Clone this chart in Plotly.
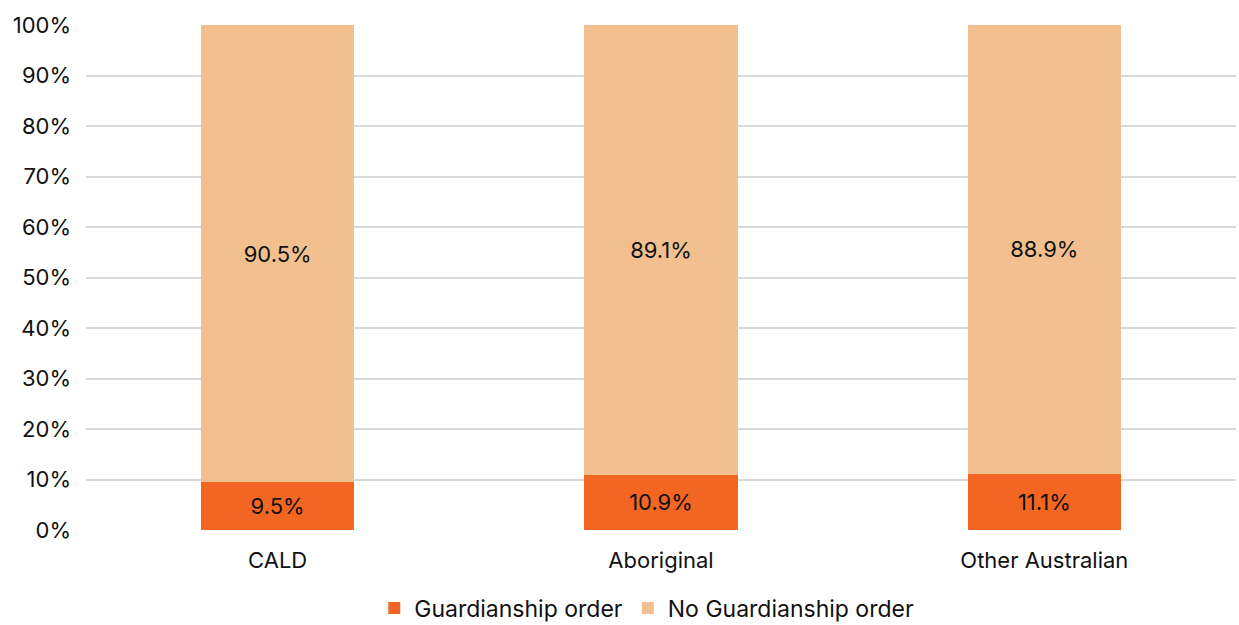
import plotly.graph_objects as go

categories = ["CALD", "Aboriginal", "Other Australian"]
guardianship = [9.5, 10.9, 11.1]
no_guardianship = [90.5, 89.1, 88.9]
y_ticks = [0, 10, 20, 30, 40, 50, 60, 70, 80, 90, 100]
y_tick_labels = [f"{v}%" for v in y_ticks]

FONT = "Inter, Roboto, sans-serif"
FS = 22

fig = go.Figure()
fig.add_trace(go.Bar(
    x=categories, y=guardianship, name="Guardianship order",
    marker=dict(color="#F26522", line=dict(width=0)),
    text=[f"{v:.1f}%" for v in guardianship], textposition="inside",
    insidetextanchor="middle", textfont=dict(color="#111111", size=FS, family=FONT),
    width=0.4,
))
fig.add_trace(go.Bar(
    x=categories, y=no_guardianship, name="No Guardianship order",
    marker=dict(color="#F2C08E", line=dict(width=0)),
    text=[f"{v:.1f}%" for v in no_guardianship], textposition="inside",
    insidetextanchor="middle", textfont=dict(color="#111111", size=FS, family=FONT),
    width=0.4,
))

fig.update_layout(
    barmode="stack",
    width=1239, height=625,
    margin=dict(l=86, r=3, t=25, b=95, autoexpand=False),
    paper_bgcolor="white", plot_bgcolor="white",
    font=dict(family=FONT, size=FS, color="#111111"),
    uniformtext=dict(minsize=FS, mode="show"),
    legend=dict(orientation="h", x=0.522, xanchor="center", xref="container",
                y=0.027, yanchor="middle", yref="container",
                font=dict(size=23), itemwidth=30, traceorder="normal",
                tracegroupgap=0),
    xaxis=dict(showgrid=False, showline=False, ticks="", tickfont=dict(size=FS),
               ticklabelstandoff=15, automargin=False),
    yaxis=dict(range=[0, 100], tickvals=y_ticks, ticktext=y_tick_labels,
               showgrid=True, gridcolor="#D9D9D9", gridwidth=2, zeroline=False,
               showline=False, ticklabelstandoff=14, tickfont=dict(size=FS),
               automargin=False),
)

fig.write_html("out.html")
